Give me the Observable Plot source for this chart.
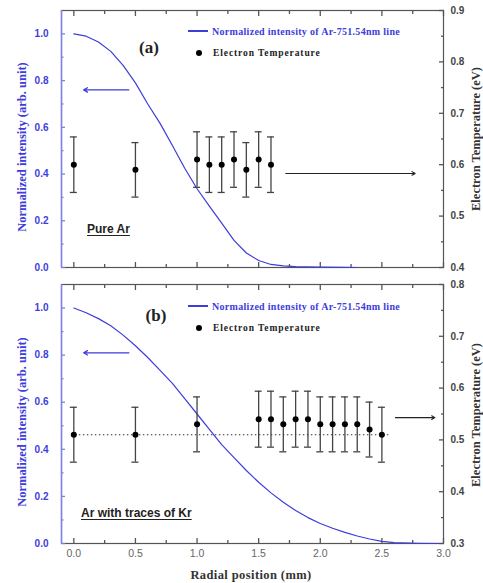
<!DOCTYPE html>
<html><head><meta charset="utf-8">
<script src="https://cdn.jsdelivr.net/npm/d3@7"></script>
<script src="https://cdn.jsdelivr.net/npm/@observablehq/plot@0.6"></script>
<style>
body{margin:0;background:#fff;}
#wrap{position:relative;width:483px;height:583px;overflow:hidden;background:#fff;}
#wrap svg{position:absolute;left:0;}
.abs{position:absolute;white-space:nowrap;line-height:1;}
</style></head><body><div id="wrap"></div>
<script>
// ---------- data ----------
// Panel (a): Pure Ar
const radialA = [0,0.1,0.2,0.3,0.4,0.5,0.6,0.7,0.8,0.9,1.0,1.1,1.2,1.3,1.4,1.5,1.6,1.7,1.8,2.0,2.2,2.3];
const intensityA = [1.0,0.99,0.965,0.925,0.865,0.79,0.70,0.617,0.522,0.425,0.337,0.263,0.19,0.116,0.062,0.03,0.013,0.007,0.004,0.002,0.001,0.0];
const tempXA = [0,0.5,1.0,1.1,1.2,1.3,1.4,1.5,1.6];
const tempA = [0.60,0.59,0.61,0.60,0.60,0.61,0.59,0.61,0.60];
const tempErrA = [0.054,0.053,0.054,0.054,0.054,0.054,0.053,0.054,0.054];

// Panel (b): Ar with traces of Kr
const radialB = [0,0.1,0.2,0.3,0.4,0.5,0.6,0.7,0.8,0.9,1.0,1.1,1.2,1.3,1.4,1.5,1.6,1.7,1.8,1.9,2.0,2.1,2.2,2.3,2.4,2.5,2.6,2.8,3.0];
const intensityB = [1.0,0.98,0.955,0.925,0.885,0.84,0.79,0.735,0.68,0.615,0.55,0.485,0.42,0.365,0.31,0.26,0.215,0.175,0.14,0.11,0.085,0.065,0.047,0.032,0.019,0.009,0.004,0.001,0.0];
const tempXB = [0,0.5,1.0,1.5,1.6,1.7,1.8,1.9,2.0,2.1,2.2,2.3,2.4,2.5];
const tempB = [0.51,0.51,0.53,0.54,0.54,0.53,0.54,0.54,0.53,0.53,0.53,0.53,0.52,0.51];
const tempErrB = [0.053,0.053,0.053,0.054,0.054,0.053,0.054,0.054,0.053,0.053,0.053,0.053,0.053,0.053];
const refLevelB = [0.51];        // dotted reference level (eV)
const refSpanB = [-0.02, 2.57];  // x extent of dotted line (mm)

// axes
const xDomain = [-0.1, 3.0];
const leftDomain = [0, 1.1];
const rightDomainA = [0.4, 0.9];
const rightDomainB = [0.3, 0.8];
const xMajor = [0,0.5,1.0,1.5,2.0,2.5,3.0];
const xMinor = [0.25,0.75,1.25,1.75,2.25,2.75];
const leftMajor = [0,0.2,0.4,0.6,0.8,1.0];
const leftMinor = [0.1,0.3,0.5,0.7,0.9];
const rightMajorA = [0.4,0.5,0.6,0.7,0.8,0.9];
const rightMinorA = [0.45,0.55,0.65,0.75,0.85];
const rightMajorB = [0.3,0.4,0.5,0.6,0.7,0.8];
const rightMinorB = [0.35,0.45,0.55,0.65,0.75];

const legendLine = "Normalized intensity of Ar-751.54nm line";
const legendDot = "Electron Temperature";
const yLeftTitle = "Normalized intensity (arb. unit)";
const yRightTitle = "Electron Temperature (eV)";
const xTitle = "Radial position (mm)";

// ---------- drawing ----------
const BLUE = "#3d3ddb";
const SPINE = "#7f7fee";
const GRAY = "#555";
const SANS = "Liberation Sans, Arial, sans-serif";
const SERIF = "Liberation Serif, Times New Roman, serif";
const wrap = document.getElementById("wrap");
const fmt = d3.format(".1f");
const blank = () => "";
const TW = 1.3;

function panel(o) {
  const curve = o.rx.map((x, i) => ({x, y: o.ry[i]}));
  const temps = o.tx.map((x, i) => ({x, t: o.t[i], e: o.te[i]}));
  const common = {
    width: 483, height: o.H, marginLeft: 61, marginRight: 40, marginTop: 10, marginBottom: o.MB,
    style: {background: "transparent", overflow: "visible"}
  };
  // inward ticks: positive tickSize shifted back inside the frame by dx/dy
  const left = Plot.plot({
    ...common,
    x: {domain: xDomain},
    y: {domain: leftDomain},
    marks: [
      Plot.frame({stroke: GRAY, strokeWidth: 1.2}),
      Plot.ruleX([xDomain[0]], {stroke: SPINE, strokeWidth: 1.4}),
      Plot.axisX({anchor: "bottom", ticks: xMajor, tickSize: 5, dy: -5, tickFormat: blank, label: null, stroke: GRAY, strokeWidth: TW}),
      Plot.axisX({anchor: "bottom", ticks: xMinor, tickSize: 3, dy: -3, tickFormat: blank, label: null, stroke: GRAY, strokeWidth: TW}),
      Plot.axisX({anchor: "top", ticks: xMajor, tickSize: 5, dy: 5, tickFormat: blank, label: null, stroke: GRAY, strokeWidth: TW}),
      Plot.axisX({anchor: "top", ticks: xMinor, tickSize: 3, dy: 3, tickFormat: blank, label: null, stroke: GRAY, strokeWidth: TW}),
      o.xLabels ? Plot.axisX({anchor: "bottom", ticks: xMajor, tickSize: 0, tickPadding: 6, tickFormat: fmt, label: null,
        fill: "#666", fontSize: 10.5, fontFamily: SANS}) : null,
      Plot.axisY({anchor: "left", ticks: leftMajor, tickSize: 4, dx: 4, tickFormat: blank, label: null, stroke: SPINE, strokeWidth: TW}),
      Plot.axisY({anchor: "left", ticks: leftMinor, tickSize: 2.5, dx: 2.5, tickFormat: blank, label: null, stroke: SPINE, strokeWidth: TW}),
      Plot.axisY({anchor: "left", ticks: leftMajor, tickSize: 0, tickPadding: 13, tickFormat: fmt, label: null,
        fill: BLUE, fontWeight: "bold", fontSize: 10, fontFamily: SANS}),
      Plot.line(curve, {x: "x", y: "y", stroke: BLUE, strokeWidth: 1.2}),
      Plot.arrow([o.blueArrow], {x1: "x1", y1: "y", x2: "x2", y2: "y", stroke: BLUE, strokeWidth: 1.3, headLength: 5, bend: 0})
    ]
  });
  const right = Plot.plot({
    ...common,
    x: {domain: xDomain, axis: null},
    y: {domain: o.rDomain},
    marks: [
      Plot.axisY({anchor: "right", ticks: o.rMajor, tickSize: 5, dx: -5, tickFormat: blank, label: null, stroke: GRAY, strokeWidth: TW}),
      Plot.axisY({anchor: "right", ticks: o.rMinor, tickSize: 3, dx: -3, tickFormat: blank, label: null, stroke: GRAY, strokeWidth: TW}),
      Plot.axisY({anchor: "right", ticks: o.rMajor, tickSize: 0, tickPadding: 7, tickFormat: fmt, label: null,
        fill: "#444", fontWeight: "bold", fontSize: 10, fontFamily: SANS}),
      o.ref ? Plot.ruleY(o.ref.level, {x1: o.ref.span[0], x2: o.ref.span[1], stroke: "#333", strokeWidth: 1.1, strokeDasharray: "1.5,2.5"}) : null,
      Plot.ruleX(temps, {x: "x", y1: d => d.t - d.e, y2: d => d.t + d.e, stroke: "#444", strokeWidth: 1.3}),
      Plot.ruleY(temps, {y: d => d.t + d.e, x1: "x", x2: "x", insetLeft: -3.5, insetRight: -3.5, stroke: "#444", strokeWidth: 1.3}),
      Plot.ruleY(temps, {y: d => d.t - d.e, x1: "x", x2: "x", insetLeft: -3.5, insetRight: -3.5, stroke: "#444", strokeWidth: 1.3}),
      Plot.dot(temps, {x: "x", y: "t", r: 3, fill: "black", stroke: null}),
      Plot.arrow([o.blackArrow], {x1: "x1", y1: "y", x2: "x2", y2: "y", stroke: "#222", strokeWidth: 1.1, headLength: 5, bend: 0})
    ]
  });
  left.style.top = o.top + "px";
  right.style.top = o.top + "px";
  wrap.appendChild(left);
  wrap.appendChild(right);
}

panel({top: 0, H: 283, MB: 16, rx: radialA, ry: intensityA, tx: tempXA, t: tempA, te: tempErrA,
  rDomain: rightDomainA, rMajor: rightMajorA, rMinor: rightMinorA, xLabels: false,
  blueArrow: {x1: 0.446, x2: 0.08, y: 0.76}, blackArrow: {x1: 1.72, x2: 2.77, y: 0.583}});
panel({top: 274, H: 309, MB: 40, rx: radialB, ry: intensityB, tx: tempXB, t: tempB, te: tempErrB,
  rDomain: rightDomainB, rMajor: rightMajorB, rMinor: rightMinorB, xLabels: true,
  ref: {level: refLevelB, span: refSpanB},
  blueArrow: {x1: 0.447, x2: 0.08, y: 0.81}, blackArrow: {x1: 2.61, x2: 2.93, y: 0.543}});

// ---------- text & legends ----------
function txt(s, x, y, css, anchor) {
  const d = document.createElement("div");
  d.className = "abs";
  d.textContent = s;
  d.style.left = x + "px";
  d.style.top = y + "px";
  d.style.cssText += css;
  d.style.transform = anchor || "translate(0,-50%)";
  wrap.appendChild(d);
  return d;
}
function box(x, y, w, h, css) {
  const d = document.createElement("div");
  d.className = "abs";
  d.style.cssText += `left:${x}px;top:${y}px;width:${w}px;height:${h}px;` + css;
  wrap.appendChild(d);
}
const legTxt = `font:bold 10px ${SERIF};letter-spacing:0.3px;`;
[[0, "(a)", 149, 48, "Pure Ar", 87, 229], [275, "(b)", 156, 316, "Ar with traces of Kr", 81, 513]].forEach(([dy, tag, tx, ty, name, nx, ny]) => {
  const ly = dy === 0 ? 31 : 306;
  const dyy = dy === 0 ? 53 : 328;
  box(188, ly - 0.6, 20, 1.3, `background:${BLUE};`);
  txt(legendLine, 212, ly, legTxt + `color:${BLUE};`);
  box(195.5, dyy - 3, 6, 6, "background:#000;border-radius:50%;");
  txt(legendDot, 213, dyy, `font:bold 9.5px ${SERIF};letter-spacing:0.9px;color:#222;`);
  txt(tag, tx, ty, `font:bold 17px ${SERIF};color:#222;`, "translate(-50%,-50%)");
  txt(name, nx, ny, `font:bold 12px ${SANS};color:#222;text-decoration:underline;text-underline-offset:2px;`);
});
txt(yLeftTitle, 22, 147, `font:bold 12.5px ${SERIF};color:${BLUE};`, "translate(-50%,-50%) rotate(-90deg)");
txt(yLeftTitle, 22, 422, `font:bold 12.5px ${SERIF};color:${BLUE};`, "translate(-50%,-50%) rotate(-90deg)");
txt(yRightTitle, 476, 139, `font:bold 12.5px ${SERIF};color:#333;`, "translate(-50%,-50%) rotate(-90deg)");
txt(yRightTitle, 476, 415, `font:bold 12.5px ${SERIF};color:#333;`, "translate(-50%,-50%) rotate(-90deg)");
txt(xTitle, 251, 575, `font:bold 12.5px ${SERIF};color:#333;letter-spacing:0.4px;`, "translate(-50%,-50%)");
</script></body></html>
